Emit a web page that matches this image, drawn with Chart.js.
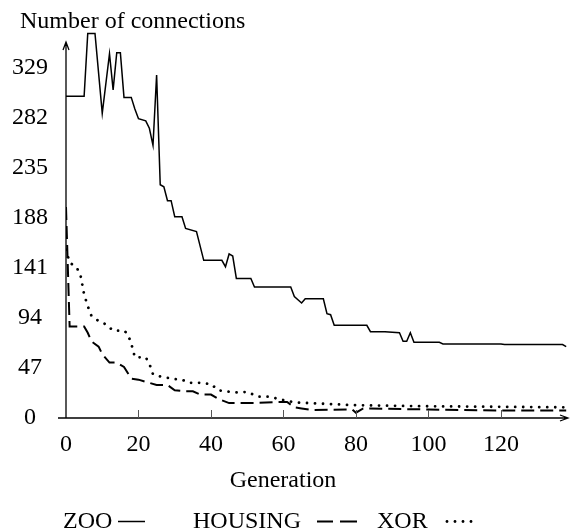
<!DOCTYPE html>
<html>
<head>
<meta charset="utf-8">
<script src="https://cdn.jsdelivr.net/npm/chart.js@4.4.1/dist/chart.umd.min.js"></script>
<style>
  html, body { margin: 0; padding: 0; background: #fff; }
  #wrap { width: 570px; height: 531px; position: relative; }
</style>
</head>
<body>
<div id="wrap"><canvas id="chart"></canvas></div>
<script>
// values
const zooGen = [0, 5, 6, 8, 10, 12, 13, 14, 15, 16, 18, 19, 20, 22, 23, 24, 25, 26, 27, 28, 29, 30, 32, 33, 36, 38, 43, 44, 45, 46, 47, 51, 52, 62, 63, 65, 66, 71, 72, 73, 74, 83, 84, 88, 92, 93, 94, 95, 96, 103, 104, 120, 121, 137, 138];
const zooVal = [302, 302, 361, 361, 286, 342, 308, 343, 343, 301, 301, 290, 281, 279, 272, 256, 322, 219, 217, 204, 204, 189, 189, 178, 175, 148, 148, 142, 154, 152, 131, 131, 123, 123, 114, 108, 112, 112, 98, 97, 87, 87, 81, 81, 80, 72, 72, 80, 71, 71, 69.5, 69.5, 69, 69, 67];

const housingGen = [0, 1, 5, 6, 7, 9, 10, 12, 14, 16, 18, 20, 22, 25, 28, 30, 33, 35, 37, 40, 42, 45, 52, 58, 61, 63, 65, 68, 79, 80, 82, 100, 120, 138];
const housingVal = [198, 86, 86, 80, 72, 67, 60, 52, 52, 48, 37, 36, 34, 31, 31, 26, 25, 25, 22, 22, 18, 14, 14, 15, 15, 10, 9, 7.5, 8, 5, 9, 8, 7, 7];

const xorGen = [0, 1, 3, 4, 5, 6, 7, 9, 11, 13, 16, 17, 18, 19, 22, 23, 24, 26, 29, 32, 34, 37, 40, 42, 44, 47, 50, 53, 56, 61, 64, 67, 70, 80, 100, 120, 138];
const xorVal = [158, 146, 141, 134, 116, 105, 96, 91, 88, 82, 82, 79, 70, 57, 57, 51, 41, 39, 37, 36, 33, 33, 32, 26, 25, 24, 24.5, 20, 20, 16, 14.5, 14, 13.5, 12, 11, 10.5, 10];

const xTicks = [0, 20, 40, 60, 80, 100, 120];
const yTicks = [0, 47, 94, 141, 188, 235, 282, 329];

const serif = "'Liberation Serif', 'Times New Roman', serif";

function toPoints(gen, val) {
  return gen.map((g, i) => ({ x: g, y: val[i] }));
}

const decorations = {
  id: "decorations",
  afterDraw(chart) {
    const ctx = chart.ctx;
    const xs = chart.scales.x;
    const ys = chart.scales.y;
    const x0 = xs.getPixelForValue(0);
    const y0 = ys.getPixelForValue(0);
    const yTop = ys.getPixelForValue(353);
    const xEnd = 568;
    ctx.save();
    ctx.strokeStyle = "#000";
    ctx.lineWidth = 1.3;
    ctx.setLineDash([]);
    // y axis with arrow
    ctx.beginPath();
    ctx.moveTo(x0, y0);
    ctx.lineTo(x0, yTop);
    ctx.moveTo(x0 - 3, yTop + 8);
    ctx.lineTo(x0, yTop);
    ctx.lineTo(x0 + 3, yTop + 8);
    ctx.stroke();
    // x axis with arrow
    ctx.beginPath();
    ctx.moveTo(x0 - 8, y0);
    ctx.lineTo(xEnd, y0);
    ctx.moveTo(xEnd - 8, y0 - 3);
    ctx.lineTo(xEnd, y0);
    ctx.lineTo(xEnd - 8, y0 + 3);
    ctx.stroke();
    // small tick marks
    ctx.lineWidth = 1;
    ctx.strokeStyle = "#555";
    ctx.beginPath();
    xTicks.forEach((t) => {
      if (t === 0) return;
      const px = Math.round(xs.getPixelForValue(t)) + 0.5;
      ctx.moveTo(px, y0);
      ctx.lineTo(px, y0 - 8);
    });
    ctx.stroke();

    // texts
    ctx.fillStyle = "#000";
    ctx.font = "24px " + serif;
    ctx.textBaseline = "alphabetic";
    ctx.textAlign = "left";
    ctx.fillText("Number of connections", 20, 28);
    ctx.textAlign = "center";
    ctx.fillText("Generation", 283, 487);

    // legend
    const ly = 528;
    const lineY = 521.5;
    ctx.textAlign = "left";
    ctx.fillText("ZOO", 63, ly);
    ctx.fillText("HOUSING", 193, ly);
    ctx.fillText("XOR", 377, ly);
    ctx.strokeStyle = "#000";
    ctx.lineWidth = 1.5;
    ctx.beginPath();
    ctx.moveTo(118, lineY);
    ctx.lineTo(145, lineY);
    ctx.stroke();
    ctx.lineWidth = 2;
    ctx.beginPath();
    ctx.moveTo(317, lineY);
    ctx.lineTo(333, lineY);
    ctx.moveTo(340, lineY);
    ctx.lineTo(357, lineY);
    ctx.stroke();
    [447, 455, 463, 471].forEach((dx) => {
      ctx.beginPath();
      ctx.arc(dx, lineY, 1.4, 0, Math.PI * 2);
      ctx.fill();
    });
    ctx.restore();
  },
};

const ctx = document.getElementById("chart").getContext("2d");
new Chart(ctx, {
  type: "line",
  data: {
    datasets: [
      {
        label: "ZOO",
        data: toPoints(zooGen, zooVal),
        borderColor: "#000",
        borderWidth: 1.5,
        pointRadius: 0,
        tension: 0,
        clip: false,
      },
      {
        label: "HOUSING",
        data: toPoints(housingGen, housingVal),
        borderColor: "#000",
        borderWidth: 2,
        borderDash: [13, 6],
        pointRadius: 0,
        tension: 0,
      },
      {
        label: "XOR",
        data: toPoints(xorGen, xorVal),
        borderColor: "#000",
        borderWidth: 2.8,
        borderDash: [0.01, 8],
        borderCapStyle: "round",
        pointRadius: 0,
        tension: 0,
      },
    ],
  },
  options: {
    responsive: true,
    maintainAspectRatio: false,
    animation: false,
    layout: {
      padding: { top: 32, right: 2, bottom: 0, left: 0 },
    },
    plugins: {
      legend: { display: false },
      title: { display: false },
      tooltip: { enabled: false },
    },
    scales: {
      x: {
        type: "linear",
        min: 0,
        max: 138.5,
        grid: { display: false, drawTicks: false },
        border: { display: false },
        ticks: {
          stepSize: 20,
          includeBounds: false,
          padding: 12,
          color: "#000",
          font: { family: serif, size: 24 },
          maxRotation: 0,
          autoSkip: false,
        },
        afterFit: (scale) => {
          scale.height = 113;
        },
      },
      y: {
        type: "linear",
        min: 0,
        max: 362,
        grid: { display: false, drawTicks: false },
        border: { display: false },
        ticks: {
          stepSize: 47,
          includeBounds: false,
          padding: 18,
          crossAlign: "center",
          color: "#000",
          font: { family: serif, size: 24 },
        },
        afterFit: (scale) => {
          scale.width = 66;
        },
      },
    },
  },
  plugins: [decorations],
});
</script>
</body>
</html>
